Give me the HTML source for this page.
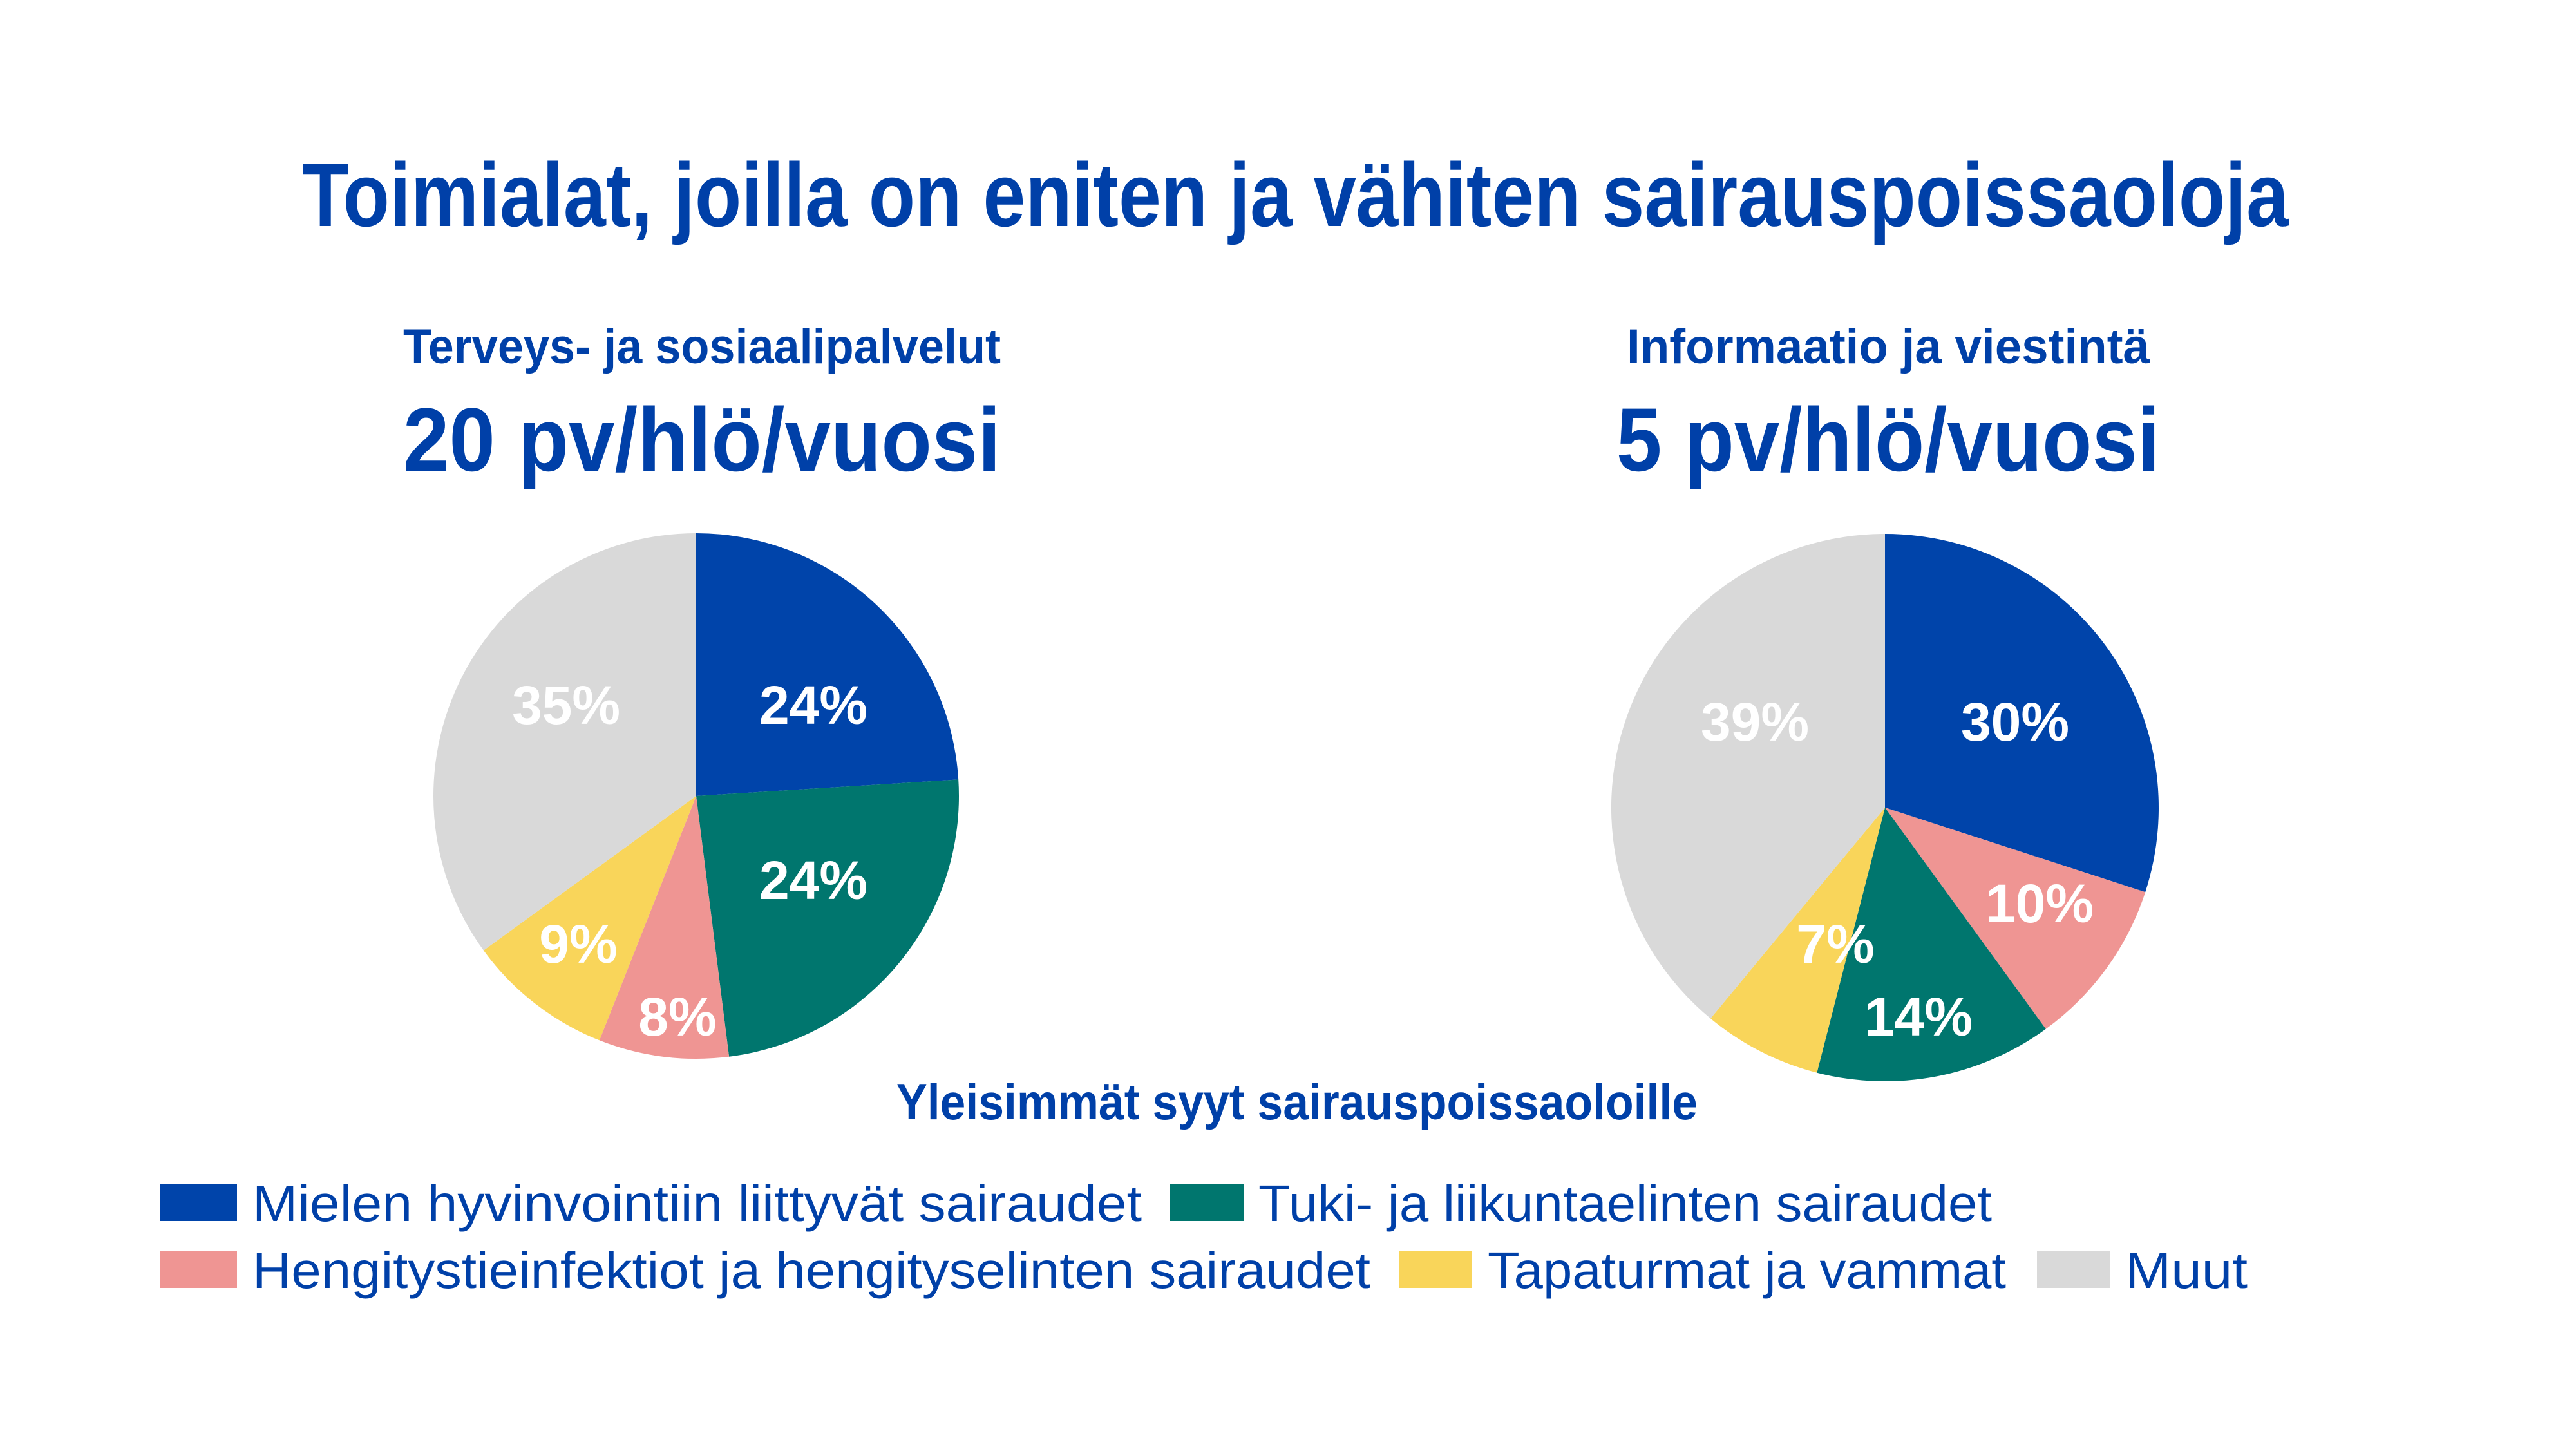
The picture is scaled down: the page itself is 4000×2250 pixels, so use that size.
<!DOCTYPE html>
<html><head><meta charset="utf-8"><style>html,body{margin:0;padding:0;background:#fff}svg{display:block}</style></head>
<body>
<svg width="4000" height="2250" viewBox="0 0 4000 2250" xmlns="http://www.w3.org/2000/svg" font-family="Liberation Sans, DejaVu Sans, sans-serif">
<rect width="4000" height="2250" fill="#fff"/>
<g fill="#0040A8" font-weight="bold">
<text x="469" y="351" font-size="140" textLength="3085" lengthAdjust="spacingAndGlyphs">Toimialat, joilla on eniten ja vähiten sairauspoissaoloja</text>
<text x="626" y="564" font-size="76" textLength="928" lengthAdjust="spacingAndGlyphs">Terveys- ja sosiaalipalvelut</text>
<text x="626" y="731" font-size="140" textLength="928" lengthAdjust="spacingAndGlyphs">20 pv/hlö/vuosi</text>
<text x="2526" y="564" font-size="76" textLength="812" lengthAdjust="spacingAndGlyphs">Informaatio ja viestintä</text>
<text x="2510" y="731" font-size="140" textLength="844" lengthAdjust="spacingAndGlyphs">5 pv/hlö/vuosi</text>
<text x="1392" y="1738" font-size="78" textLength="1244" lengthAdjust="spacingAndGlyphs">Yleisimmät syyt sairauspoissaoloille</text>
</g>
<!-- left pie -->
<path d="M1081 1236 L1081 828 A408 408 0 0 1 1488.2 1210.4 Z" fill="#0044AA"/>
<path d="M1081 1236 L1488.2 1210.4 A408 408 0 0 1 1132.1 1640.8 Z" fill="#00766E"/>
<path d="M1081 1236 L1132.1 1640.8 A408 408 0 0 1 930.8 1615.4 Z" fill="#EF9593"/>
<path d="M1081 1236 L930.8 1615.4 A408 408 0 0 1 750.9 1475.8 Z" fill="#F9D55A"/>
<path d="M1081 1236 L750.9 1475.8 A408 408 0 0 1 1081 828 Z" fill="#D9D9D9"/>
<!-- right pie -->
<path d="M2927 1254 L2927 829 A425 425 0 0 1 3331.2 1385.3 Z" fill="#0044AA"/>
<path d="M2927 1254 L3331.2 1385.3 A425 425 0 0 1 3176.8 1597.8 Z" fill="#EF9593"/>
<path d="M2927 1254 L3176.8 1597.8 A425 425 0 0 1 2821.3 1665.7 Z" fill="#00766E"/>
<path d="M2927 1254 L2821.3 1665.7 A425 425 0 0 1 2656.1 1581.5 Z" fill="#F9D55A"/>
<path d="M2927 1254 L2656.1 1581.5 A425 425 0 0 1 2927 829 Z" fill="#D9D9D9"/>
<g fill="#fff" font-weight="bold" font-size="84" text-anchor="middle">
<text x="1263" y="1124">24%</text>
<text x="1263" y="1396">24%</text>
<text x="1052" y="1608">8%</text>
<text x="898" y="1495">9%</text>
<text x="879" y="1124">35%</text>
<text x="3129" y="1150">30%</text>
<text x="3167" y="1432">10%</text>
<text x="2979" y="1608">14%</text>
<text x="2850" y="1495">7%</text>
<text x="2725" y="1150">39%</text>
</g>
<!-- legend -->
<rect x="248" y="1838" width="120" height="58" fill="#0044AA"/>
<rect x="1816" y="1838" width="116" height="58" fill="#00766E"/>
<rect x="248" y="1942" width="120" height="58" fill="#EF9593"/>
<rect x="2172" y="1942" width="113" height="58" fill="#F9D55A"/>
<rect x="3163" y="1942" width="114" height="58" fill="#D9D9D9"/>
<g fill="#0040A8" font-size="80">
<text x="392" y="1896" textLength="1381" lengthAdjust="spacingAndGlyphs">Mielen hyvinvointiin liittyvät sairaudet</text>
<text x="1954" y="1896" textLength="1139" lengthAdjust="spacingAndGlyphs">Tuki- ja liikuntaelinten sairaudet</text>
<text x="392" y="2000" textLength="1736" lengthAdjust="spacingAndGlyphs">Hengitystieinfektiot ja hengityselinten sairaudet</text>
<text x="2310" y="2000" textLength="805" lengthAdjust="spacingAndGlyphs">Tapaturmat ja vammat</text>
<text x="3300" y="2000" textLength="190" lengthAdjust="spacingAndGlyphs">Muut</text>
</g>
</svg>
</body></html>
